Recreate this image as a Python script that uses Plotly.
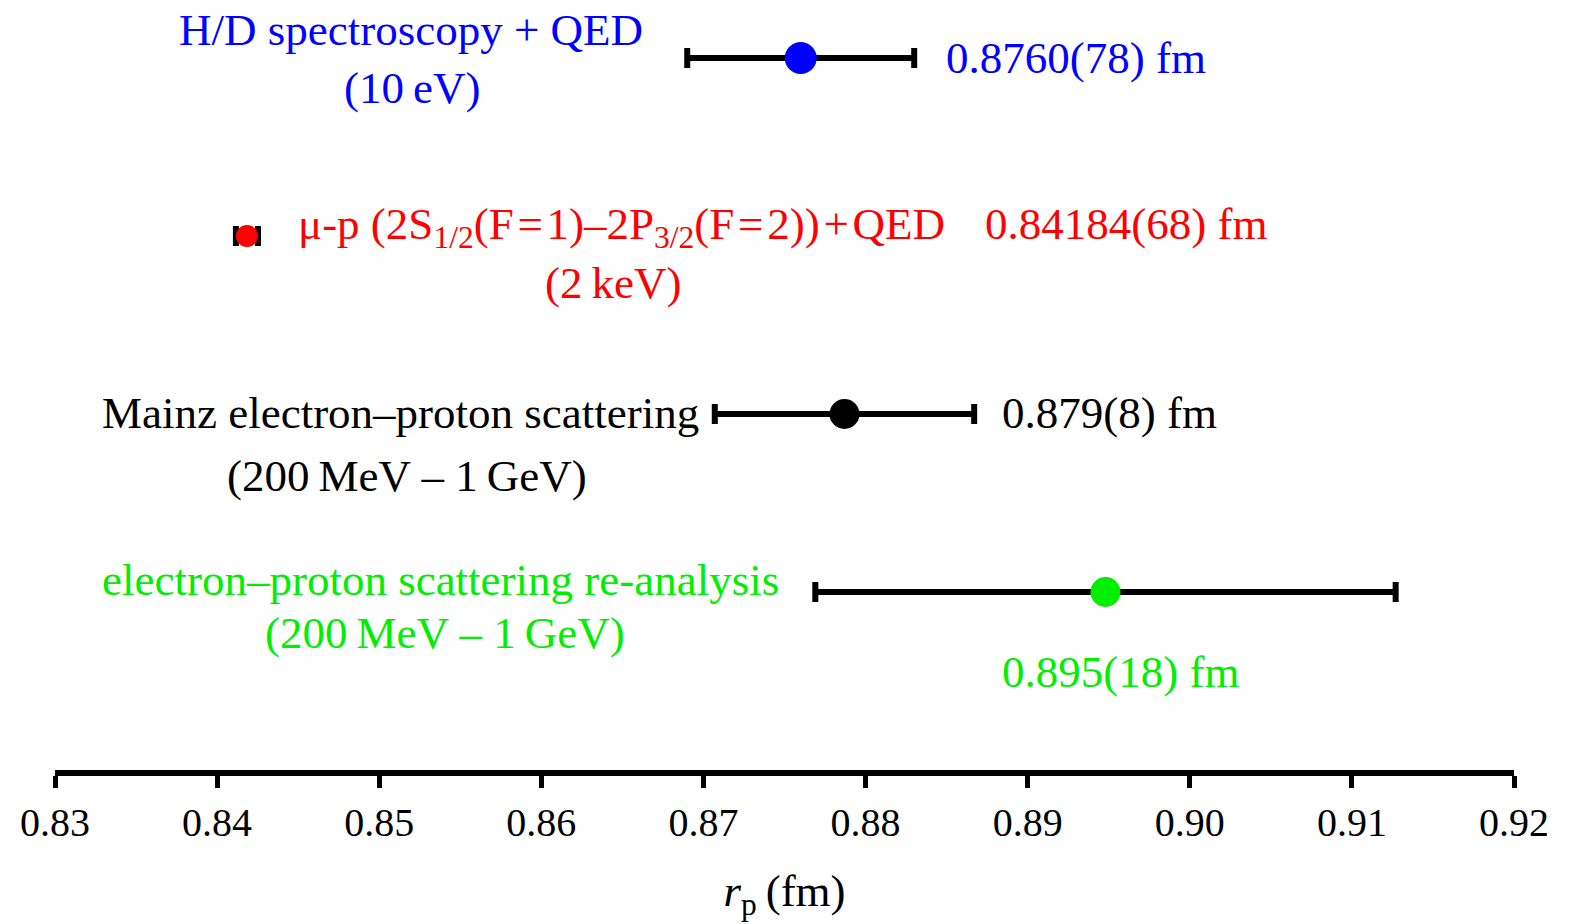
import plotly.graph_objects as go

# Data
names = ["H/D spectroscopy + QED", "μ-p", "Mainz electron–proton scattering", "electron–proton scattering re-analysis"]
radius = [0.8760, 0.84184, 0.8787, 0.8948]
err = [0.0070, 0.00068, 0.0080, 0.0179]
row = [4, 3, 2, 1]
colors = ["#0000ff", "#ff0000", "#000000", "#00ee00"]
msize = [32, 22, 30, 30]
tickvals = [0.83, 0.84, 0.85, 0.86, 0.87, 0.88, 0.89, 0.90, 0.91, 0.92]
ticktext = ["0.83", "0.84", "0.85", "0.86", "0.87", "0.88", "0.89", "0.90", "0.91", "0.92"]

FONT = "Liberation Serif"
FS = 40
AFS = 45
TS = "\u2009"
HS = "\u200a"

fig = go.Figure()
for i in range(len(names)):
    fig.add_trace(go.Scatter(
        x=[radius[i]], y=[row[i]], mode="markers",
        marker=dict(color=colors[i], size=msize[i], line=dict(width=0)),
        error_x=dict(type="data", array=[err[i]], visible=True, color="black",
                     thickness=6, width=10),
        showlegend=False, hoverinfo="skip"))

def ann(x, y, text, color, xanchor="center"):
    fig.add_annotation(x=x, y=y, xref="x", yref="y", text=text, showarrow=False,
                       font=dict(family=FONT, size=AFS, color=color), xanchor=xanchor,
                       yanchor="middle")

def px(xp):
    return 0.83 + (xp - 55) / (1514 - 55) * 0.09
def py(yp):
    return (770 - yp) / 178.0

ann(px(411), py(30), "H/D spectroscopy + QED", colors[0])
ann(px(412), py(88), "(10" + TS + "eV)", colors[0])
ann(px(944), py(58), "0.8760(78) fm", colors[0], "left")

ann(px(296), py(227), "μ-p (2S<sub>1/2</sub>(F" + HS + "=" + HS + "1)–2P<sub>3/2</sub>(F" + HS + "=" + HS + "2))" + HS + "+" + HS + "QED", colors[1], "left")
ann(px(613), py(283), "(2" + TS + "keV)", colors[1])
ann(px(983), py(224), "0.84184(68) fm", colors[1], "left")

ann(px(100), py(413), "Mainz electron–proton scattering", colors[2], "left")
ann(px(407), py(476), "(200" + TS + "MeV – 1" + TS + "GeV)", colors[2])
ann(px(1000), py(413), "0.879(8) fm", colors[2], "left")

ann(px(100), py(580), "electron–proton scattering re-analysis", colors[3], "left")
ann(px(445), py(633), "(200" + TS + "MeV – 1" + TS + "GeV)", colors[3])
ann(px(1120), py(672), "0.895(18) fm", colors[3])

fig.update_layout(
    width=1570, height=924,
    margin=dict(l=55, r=56, t=0, b=154),
    plot_bgcolor="white", paper_bgcolor="white",
    font=dict(family=FONT, size=FS, color="black"),
    xaxis=dict(range=[0.83, 0.92], tickvals=tickvals, ticktext=ticktext,
               showline=True, linewidth=6, linecolor="black",
               ticks="outside", ticklen=12, tickwidth=5, tickcolor="black",
               showgrid=False, zeroline=False,
               tickfont=dict(family=FONT, size=FS, color="black"),
               title=dict(text="<i>r</i><sub>p</sub>" + TS + "(fm)", standoff=32,
                          font=dict(family=FONT, size=AFS, color="black"))),
    yaxis=dict(range=[0, 770/178.0], visible=False, showgrid=False, zeroline=False),
)

fig.write_html("out.html")
